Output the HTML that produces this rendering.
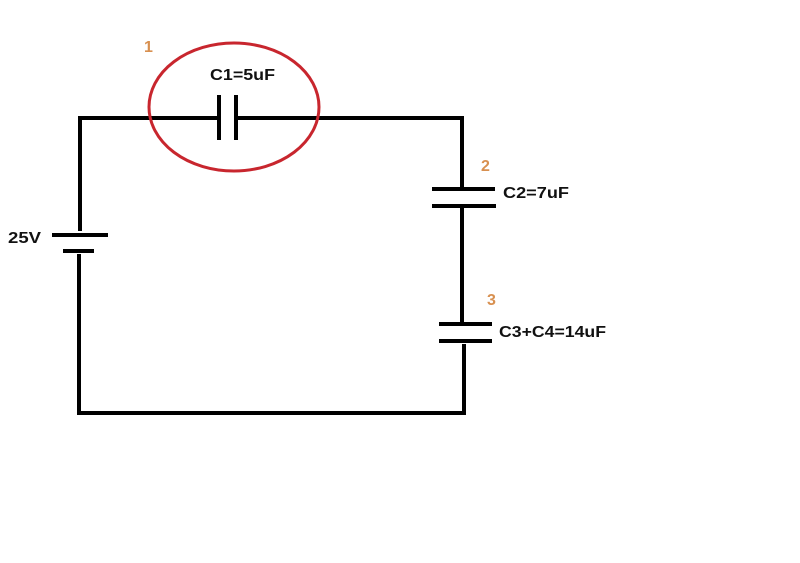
<!DOCTYPE html>
<html><head><style>
html,body{margin:0;padding:0;background:#fff;width:800px;height:563px;overflow:hidden}
svg{display:block}
text{font-family:"Liberation Sans",sans-serif;font-weight:bold;font-size:16px}
</style></head><body>
<svg width="800" height="563" viewBox="0 0 800 563">
<g stroke="#000" stroke-width="4" fill="none" stroke-linecap="square">
<polyline points="80,229 80,118 218,118"/>
<line x1="237" y1="118" x2="461" y2="118"/>
<line x1="219" y1="97" x2="219" y2="138"/>
<line x1="236" y1="97" x2="236" y2="138"/>
<line x1="54" y1="235" x2="106" y2="235"/>
<line x1="65" y1="251" x2="92" y2="251"/>
<polyline points="79,256 79,413 464,413 464,346"/>
<line x1="462" y1="118" x2="462" y2="188"/>
<line x1="434" y1="189" x2="493" y2="189"/>
<line x1="434" y1="206" x2="494" y2="206"/>
<line x1="462" y1="210" x2="462" y2="323"/>
<line x1="441" y1="324" x2="490" y2="324"/>
<line x1="441" y1="341" x2="490" y2="341"/>
</g>
<ellipse cx="234" cy="107" rx="85" ry="64" fill="none" stroke="#c8262e" stroke-width="3"/>
<g fill="#d89050"><text x="144" y="52">1</text><text x="481" y="171">2</text><text x="487" y="305">3</text></g>
<g fill="#111"><text x="210" y="80" textLength="65" lengthAdjust="spacingAndGlyphs">C1=5uF</text><text x="8" y="243" textLength="33" lengthAdjust="spacingAndGlyphs">25V</text><text x="503" y="198" textLength="66" lengthAdjust="spacingAndGlyphs">C2=7uF</text><text x="499" y="337" textLength="107" lengthAdjust="spacingAndGlyphs">C3+C4=14uF</text></g>
</svg>
</body></html>
